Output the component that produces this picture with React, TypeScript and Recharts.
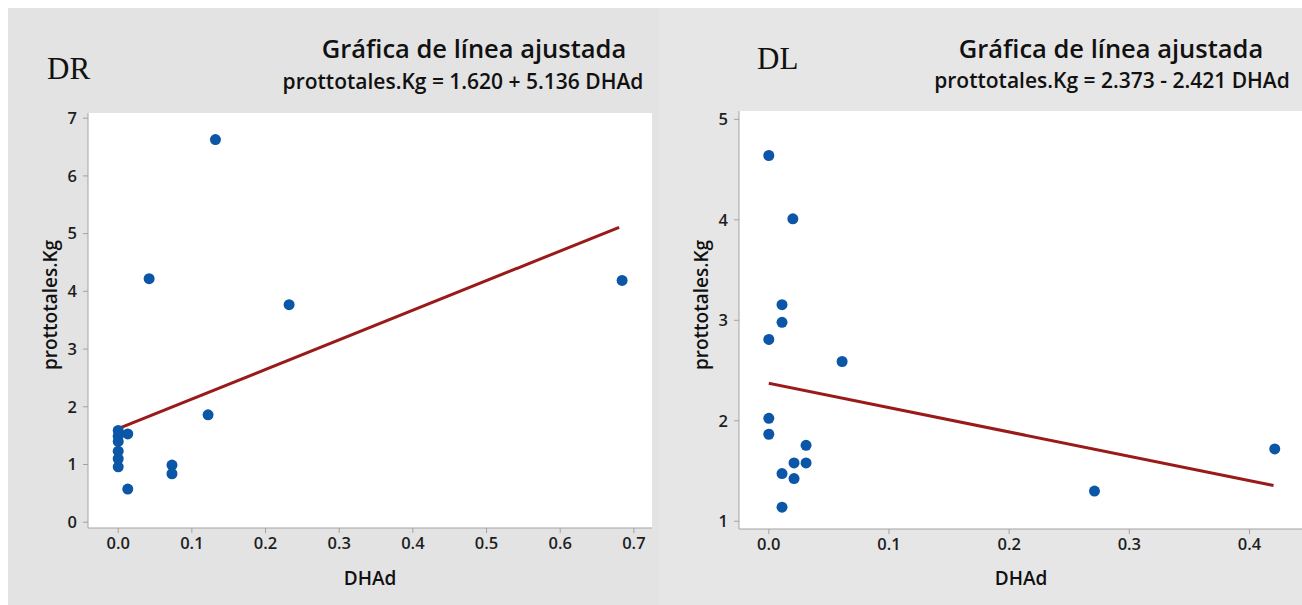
import React from 'react';
import { ScatterChart, Scatter, XAxis, YAxis, CartesianGrid } from 'recharts';

// DR panel: observed points
const drX = [0, 0, 0, 0, 0, 0, 0.013, 0.013, 0.042, 0.073, 0.073, 0.122, 0.132, 0.232, 0.684];
const drY = [1.59, 1.49, 1.4, 1.23, 1.1, 0.96, 1.53, 0.575, 4.22, 0.99, 0.84, 1.86, 6.63, 3.77, 4.19];
// DR fitted line ends
const drFitX = [0, 0.68];
const drFitY = [1.62, 5.11];

// DL panel
const dlX = [0, 0.02, 0.011, 0.011, 0, 0.061, 0, 0, 0.031, 0.021, 0.031, 0.011, 0.021, 0.011, 0.271, 0.421];
const dlY = [4.64, 4.01, 3.156, 2.98, 2.81, 2.59, 2.025, 1.866, 1.756, 1.58, 1.58, 1.475, 1.425, 1.14, 1.3, 1.72];
const dlFitX = [0, 0.42];
const dlFitY = [2.373, 1.356];

const drXTicks = [0, 0.1, 0.2, 0.3, 0.4, 0.5, 0.6, 0.7];
const drYTicks = [0, 1, 2, 3, 4, 5, 6, 7];
const dlXTicks = [0, 0.1, 0.2, 0.3, 0.4];
const dlYTicks = [1, 2, 3, 4, 5];

const pts = (xs: number[], ys: number[]) => xs.map((x, i) => ({ x, y: ys[i] }));

const FONT = '"Open Sans", "Noto Sans", sans-serif';
const DOT = '#0b56a6';
const FIT = '#9a1a1a';
const AXIS = '#a3a3a3';

const tickStyle = { fontFamily: FONT, fontSize: 16.5, fontWeight: 600, fill: '#1e1e1e' };

const Dot = (props: any) => <circle cx={props.cx} cy={props.cy} r={5.5} fill={DOT} />;

function center(x: number, y: number, extra: React.CSSProperties = {}): React.CSSProperties {
  return {
    position: 'absolute',
    left: x,
    top: y,
    transform: 'translate(-50%, -50%)',
    whiteSpace: 'nowrap',
    fontFamily: FONT,
    color: '#111',
    lineHeight: 1,
    ...extra,
  };
}

interface PanelProps {
  tag: string;
  tagX: number;
  tagY: number;
  subtitle: string;
  titleX: number;
  subX: number;
  subY: number;
  points: { x: number; y: number }[];
  fit: { x: number; y: number }[];
  xDomain: [number, number];
  yDomain: [number, number];
  xTicks: number[];
  yTicks: number[];
  top: number;
  bottom: number;
  width: number;
  chartWidth: number;
  bg: string;
}

function Panel(p: PanelProps) {
  return (
    <div style={{ position: 'relative', width: p.width, height: 597, background: p.bg, overflow: 'hidden', flexShrink: 0 }}>
      <div style={{ position: 'absolute', left: p.tagX, top: p.tagY, transform: 'translateY(-50%)', fontFamily: '"Liberation Serif", serif', fontSize: 31, lineHeight: 1, color: '#111' }}>
        {p.tag}
      </div>
      <div style={center(p.titleX, 41, { fontSize: 25.5, fontWeight: 600 })}>Gráfica de línea ajustada</div>
      <div style={center(p.subX, p.subY, { fontSize: 21, fontWeight: 600 })}>{p.subtitle}</div>
      <div style={center(42, 297, { fontSize: 19, fontWeight: 600, transform: 'translate(-50%, -50%) rotate(-90deg)' })}>
        prottotales.Kg
      </div>
      <div style={center(362, 570, { fontSize: 19, fontWeight: 600 })}>DHAd</div>
      <div style={{ position: 'absolute', left: 0, top: 0 }}>
        <ScatterChart width={p.chartWidth} height={597} margin={{ top: p.top, right: 7, bottom: p.bottom, left: 40 }}>
          <CartesianGrid horizontal={false} vertical={false} fill="#ffffff" />
          <XAxis
            dataKey="x"
            type="number"
            domain={p.xDomain}
            ticks={p.xTicks}
            tickFormatter={(v: number) => v.toFixed(1)}
            allowDataOverflow
            height={30}
            tickSize={5}
            tickMargin={4}
            tick={tickStyle}
            stroke={AXIS}
          />
          <YAxis
            dataKey="y"
            type="number"
            domain={p.yDomain}
            ticks={p.yTicks}
            allowDataOverflow
            width={40}
            tickSize={5}
            tickMargin={6}
            tick={tickStyle}
            stroke={AXIS}
          />
          <XAxis xAxisId="top" orientation="top" type="number" domain={[0, 1]} height={0} tick={false} tickLine={false} stroke={AXIS} />
          <YAxis yAxisId="right" orientation="right" type="number" domain={[0, 1]} width={0} tick={false} tickLine={false} stroke={AXIS} />
          <Scatter data={p.fit} line={{ stroke: FIT, strokeWidth: 3 }} shape={() => null} isAnimationActive={false} />
          <Scatter data={p.points} shape={Dot} isAnimationActive={false} />
        </ScatterChart>
      </div>
    </div>
  );
}

export default function App() {
  return (
    <div style={{ position: 'fixed', left: 8, top: 8, width: 1294, height: 597, overflow: 'hidden', display: 'flex' }}>
      <Panel
        tag="DR"
        tagX={39}
        tagY={60}
        subtitle="prottotales.Kg = 1.620 + 5.136 DHAd"
        titleX={466}
        subX={455}
        subY={73}
        points={pts(drX, drY)}
        fit={pts(drFitX, drFitY)}
        xDomain={[-0.041, 0.7246]}
        yDomain={[-0.1, 7.09]}
        xTicks={drXTicks}
        yTicks={drYTicks}
        top={105}
        bottom={47}
        width={651}
        chartWidth={651}
        bg="#e3e3e3"
      />
      <Panel
        tag="DL"
        tagX={98}
        tagY={50}
        subtitle="prottotales.Kg = 2.373 - 2.421 DHAd"
        titleX={452}
        subX={453}
        subY={72}
        points={pts(dlX, dlY)}
        fit={pts(dlFitX, dlFitY)}
        xDomain={[-0.0248, 0.452]}
        yDomain={[0.923, 5.083]}
        xTicks={dlXTicks}
        yTicks={dlYTicks}
        top={103}
        bottom={46}
        width={643}
        chartWidth={660}
        bg="#e6e6e6"
      />
    </div>
  );
}
